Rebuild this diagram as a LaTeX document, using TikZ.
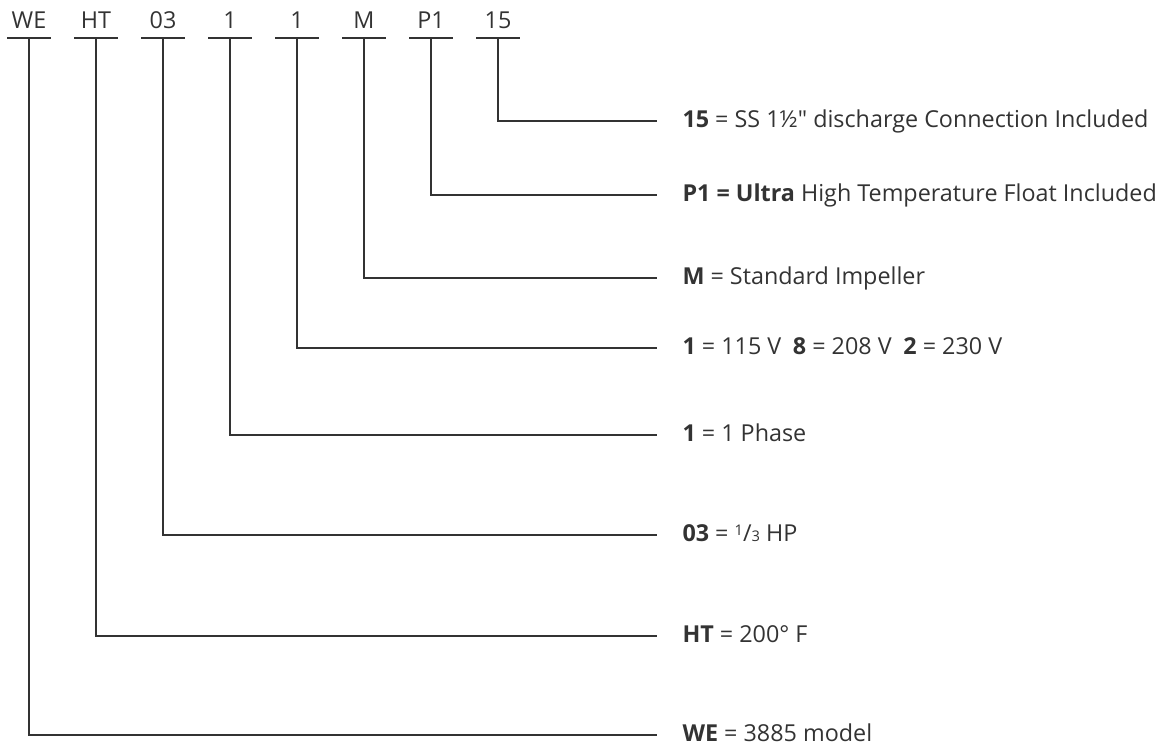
\documentclass[tikz,border=0pt]{standalone}
\usepackage{fontspec}
\setmainfont{Open Sans}
\usetikzlibrary{positioning,calc}
\usepackage{xcolor}
\definecolor{ink}{HTML}{333333}

\begin{document}
\begin{tikzpicture}[x=0.75pt, y=-0.75pt, thick, font=\fontsize{17.5}{21}\selectfont, text=ink]
  \tikzstyle{code} = [anchor=south, inner sep=0pt, minimum width=31.5pt, text height=12pt, text depth=7pt]
  \tikzstyle{desc} = [anchor=west, inner sep=0pt, text height=12pt, text depth=3pt]
  \tikzstyle{lead} = [draw=ink, line width=0.9pt, shorten >=18.75pt]
  \useasboundingbox (0,0) rectangle (1168,746);

  % code letters along the top
  \node[code] (we) at (29,38) {WE};
  \node[code] (ht) at (96,38) {HT};
  \node[code] (hp) at (163,38) {03};
  \node[code] (ph) at (230,38) {1};
  \node[code] (volt) at (297,38) {1};
  \node[code] (imp) at (364,38) {M};
  \node[code] (flt) at (431,38) {P1};
  \node[code] (con) at (498,38) {15};
  \foreach \c in {we,ht,hp,ph,volt,imp,flt,con}
    \draw[ink, line width=0.9pt] (\c.south west) -- (\c.south east);

  % meanings on the right
  \node[desc] (conD) at (682,121) {\textbf{15} = SS 1½\textquotedbl{} discharge Connection Included};
  \node[desc] (fltD) at (682,195) {\textbf{P1 = Ultra} High Temperature Float Included};
  \node[desc] (impD) at (682,278) {\textbf{M} = Standard Impeller};
  \node[desc] (voltD) at (682,348) {\textbf{1} = 115 V\enspace\textbf{8} = 208 V\enspace\textbf{2} = 230 V};
  \node[desc] (phD) at (682,435) {\textbf{1} = 1 Phase};
  \node[desc] (hpD) at (682,535) {\textbf{03} = {\fontsize{11}{12}\selectfont\raisebox{0.75ex}{1}}/{\fontsize{11}{12}\selectfont 3} HP};
  \node[desc] (htD) at (682,636) {\textbf{HT} = 200° F};
  \node[desc] (weD) at (682,735) {\textbf{WE} = 3885 model};

  \path[lead] (con.south) |- (conD.west);
  \path[lead] (flt.south) |- (fltD.west);
  \path[lead] (imp.south) |- (impD.west);
  \path[lead] (volt.south) |- (voltD.west);
  \path[lead] (ph.south) |- (phD.west);
  \path[lead] (hp.south) |- (hpD.west);
  \path[lead] (ht.south) |- (htD.west);
  \path[lead] (we.south) |- (weD.west);
\end{tikzpicture}
\end{document}
